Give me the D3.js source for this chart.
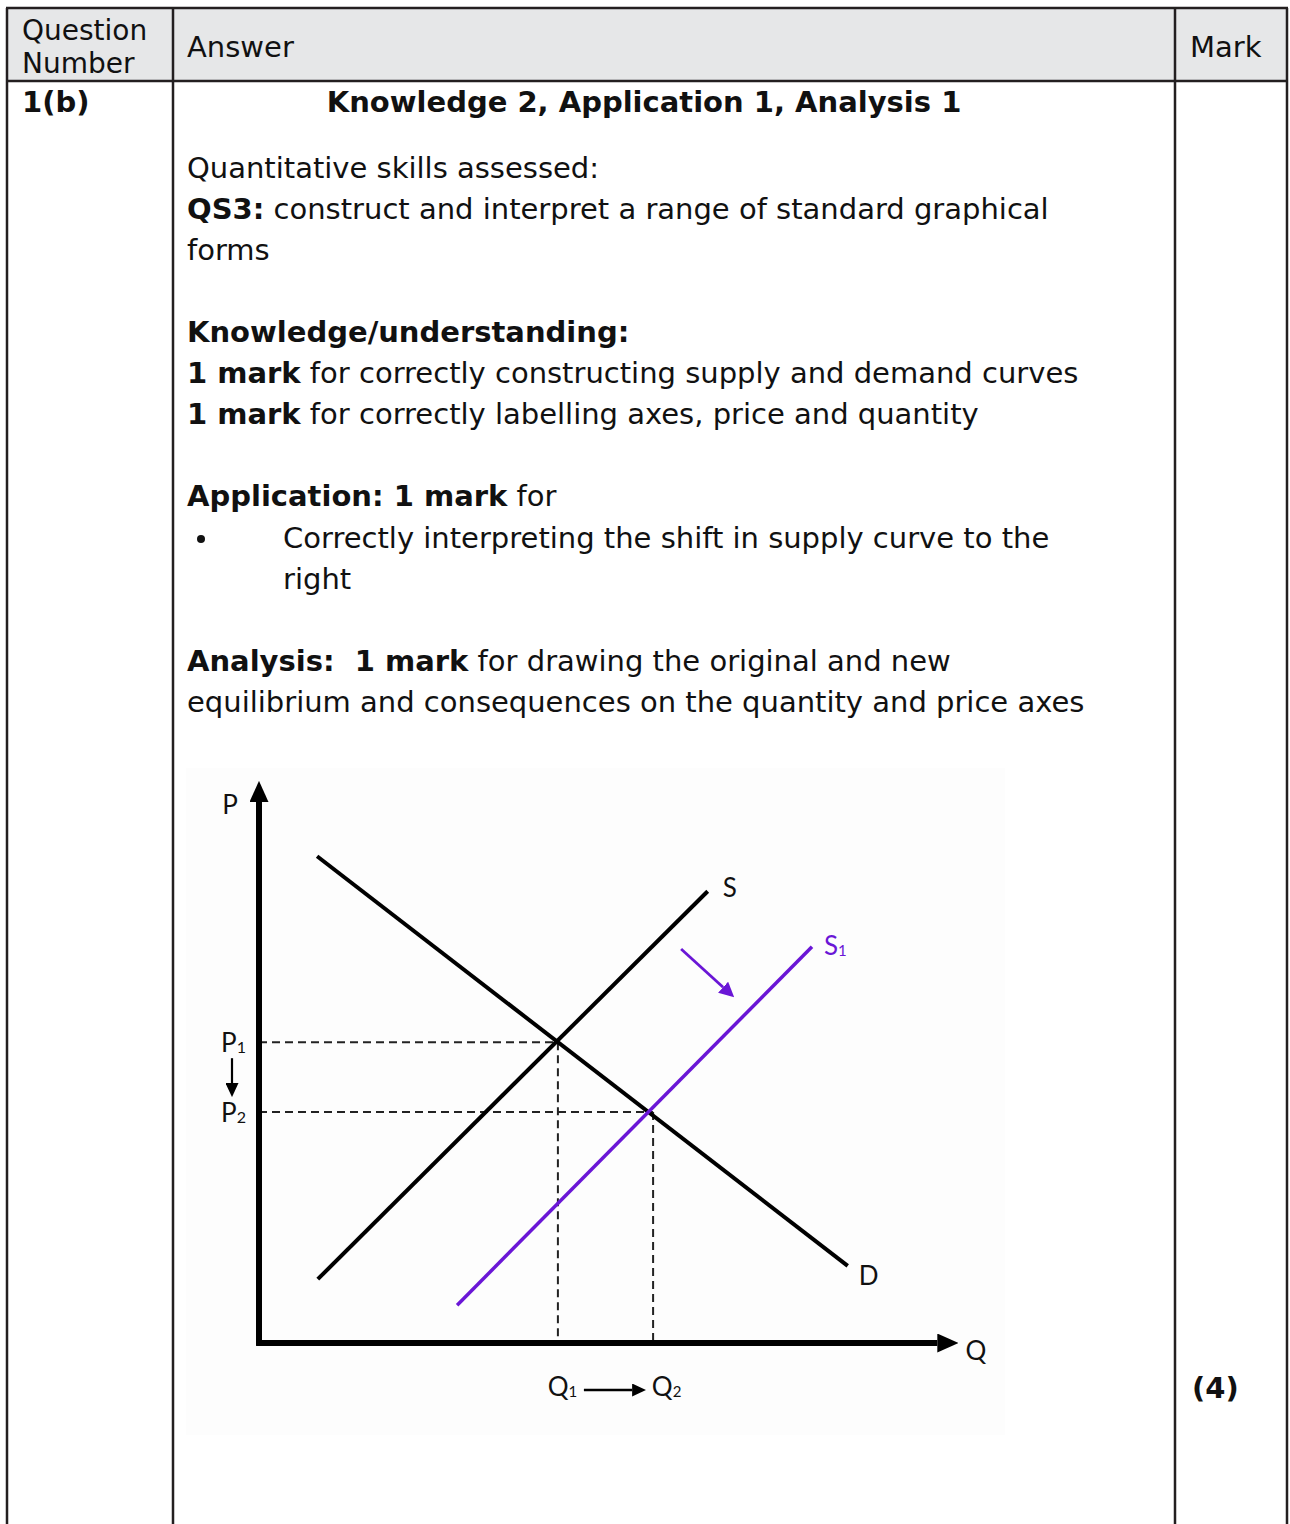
<!DOCTYPE html>
<html>
<head>
<meta charset="utf-8">
<script src="https://cdn.jsdelivr.net/npm/d3@7"></script>
<style>
body { margin: 0; background: #ffffff; }
svg text.doc { font-family: "DejaVu Sans", Verdana, sans-serif; font-size: 29px; fill: #111; white-space: pre; }
svg text.lab { font-family: Lato, "Open Sans", sans-serif; font-size: 26px; fill: #111; }
</style>
</head>
<body>
<div id="chart-area"></div>
<script>
/*
*    supply shift diagram inside a mark scheme table
*/

// curve end points as [quantity, price], both on a 0-100 scale
var demandCurve = [[8.3, 87.7], [84.1, 13.9]];
var supplyCurve = [[8.4, 11.5], [64.1, 81.4]];
var supplyNewCurve = [[28.3, 6.8], [79.0, 71.4]];
var equilibria = [[42.7, 54.2], [56.3, 41.6]];
var shiftArrow = [[60.3, 71.0], [67.7, 62.2]];

var priceTicks = [54.2, 41.6];
var priceTickLabels = ["1", "2"];
var quantityTicks = [42.7, 56.3];
var quantityTickLabels = ["1", "2"];

var axisEnd = 97.5;

var width = 1290;
var height = 1524;

var svg = d3.select("#chart-area").append("svg")
            .attr("width", width)
            .attr("height", height);

var defs = svg.append("defs");
function addMarker(id, w, h, color) {
  defs.append("marker")
      .attr("id", id)
      .attr("viewBox", "0 0 " + w + " " + h)
      .attr("markerUnits", "userSpaceOnUse")
      .attr("markerWidth", w)
      .attr("markerHeight", h)
      .attr("refX", 0)
      .attr("refY", h / 2)
      .attr("orient", "auto")
    .append("path")
      .attr("d", "M0,0 L" + w + "," + (h / 2) + " L0," + h + " Z")
      .attr("fill", color);
}
addMarker("arrowAxis", 21, 19, "#000");
addMarker("arrowSmall", 14, 13, "#000");
addMarker("arrowPurple", 15, 15, "#6a16d6");

// ---------- table ----------
var border = "#231f20";
var colX = [7, 173, 1175, 1287];
var rowY = [8, 81];

svg.append("rect")
   .attr("x", colX[0]).attr("y", rowY[0])
   .attr("width", colX[3] - colX[0]).attr("height", rowY[1] - rowY[0])
   .attr("fill", "#e6e7e8");

colX.forEach(function(x) {
  svg.append("line")
     .attr("x1", x).attr("x2", x)
     .attr("y1", rowY[0]).attr("y2", height + 5)
     .attr("stroke", border).attr("stroke-width", 2.5);
});
rowY.forEach(function(y) {
  svg.append("line")
     .attr("x1", colX[0] - 1).attr("x2", colX[3] + 1)
     .attr("y1", y).attr("y2", y)
     .attr("stroke", border).attr("stroke-width", 2.5);
});

function addText(x, y, parts, anchor) {
  var t = svg.append("text")
             .attr("class", "doc")
             .attr("x", x).attr("y", y)
             .attr("text-anchor", anchor || "start");
  parts.forEach(function(p) {
    t.append("tspan")
     .attr("font-weight", p[1] ? "bold" : "normal")
     .text(p[0]);
  });
  return t;
}

addText(22, 40, [["Question", 0]]).style("font-size", "28px");
addText(22, 73, [["Number", 0]]).style("font-size", "28px");
addText(187, 57, [["Answer", 0]]);
addText(1190, 57, [["Mark", 0]]);
addText(22, 112, [["1(b)", 1]]);
addText(644, 112, [["Knowledge 2, Application 1, Analysis 1", 1]], "middle");

var answerLines = [
  [187, 178, [["Quantitative skills assessed:", 0]]],
  [187, 219, [["QS3:", 1], [" construct and interpret a range of standard graphical", 0]]],
  [187, 260, [["forms", 0]]],
  [187, 342, [["Knowledge/understanding:", 1]]],
  [187, 383, [["1 mark", 1], [" for correctly constructing supply and demand curves", 0]]],
  [187, 424, [["1 mark", 1], [" for correctly labelling axes, price and quantity", 0]]],
  [187, 506, [["Application: 1 mark", 1], [" for", 0]]],
  [283, 548, [["Correctly interpreting the shift in supply curve to the", 0]]],
  [283, 589, [["right", 0]]],
  [187, 671, [["Analysis:  1 mark", 1], [" for drawing the original and new", 0]]],
  [187, 712, [["equilibrium and consequences on the quantity and price axes", 0]]]
];
answerLines.forEach(function(l) { addText(l[0], l[1], l[2]); });

svg.append("circle").attr("cx", 201).attr("cy", 539).attr("r", 4).attr("fill", "#111");

addText(1192, 1398, [["(4)", 1]]);

// ---------- diagram ----------
svg.append("rect")
   .attr("x", 186).attr("y", 768)
   .attr("width", 819).attr("height", 667)
   .attr("fill", "#fdfdfd");

var x = d3.scaleLinear().domain([0, 100]).range([259, 959]);
var y = d3.scaleLinear().domain([0, 100]).range([1343, 788]);

var g = svg.append("g");
var line = d3.line().x(function(d) { return x(d[0]); }).y(function(d) { return y(d[1]); });

// dashed guides
equilibria.forEach(function(e) {
  g.append("path")
   .attr("d", line([[0, e[1]], e]))
   .attr("fill", "none").attr("stroke", "#222").attr("stroke-width", 2)
   .attr("stroke-dasharray", "8,5");
  g.append("path")
   .attr("d", line([e, [e[0], 0]]))
   .attr("fill", "none").attr("stroke", "#222").attr("stroke-width", 2)
   .attr("stroke-dasharray", "8,5");
});

// curves
g.append("path").attr("d", line(demandCurve))
 .attr("fill", "none").attr("stroke", "#000").attr("stroke-width", 4);
g.append("path").attr("d", line(supplyCurve))
 .attr("fill", "none").attr("stroke", "#000").attr("stroke-width", 4);
g.append("path").attr("d", line(supplyNewCurve))
 .attr("fill", "none").attr("stroke", "#6a16d6").attr("stroke-width", 3.5);

// shift arrow
g.append("path").attr("d", line([shiftArrow[0], [shiftArrow[1][0] - 1.4, shiftArrow[1][1] + 1.9]]))
 .attr("fill", "none").attr("stroke", "#6a16d6").attr("stroke-width", 2.8)
 .attr("marker-end", "url(#arrowPurple)");

// axes
g.append("path").attr("d", line([[0, -0.5], [0, axisEnd]]))
 .attr("fill", "none").attr("stroke", "#000").attr("stroke-width", 6)
 .attr("marker-end", "url(#arrowAxis)");
g.append("path").attr("d", line([[-0.4, 0], [axisEnd - 0.6, 0]]))
 .attr("fill", "none").attr("stroke", "#000").attr("stroke-width", 6)
 .attr("marker-end", "url(#arrowAxis)");

var leftAxis = d3.axisLeft(y).tickValues(priceTicks).tickSize(0).tickPadding(13).tickFormat(function() { return ""; });
var pAxis = g.append("g").attr("transform", "translate(" + x(0) + ",0)").call(leftAxis);
pAxis.select(".domain").remove();
pAxis.selectAll("text").each(function(d, i) {
  var t = d3.select(this).attr("class", "lab").attr("fill", "#111").attr("dy", "0.35em");
  t.append("tspan").text("P");
  t.append("tspan").attr("font-size", "16px").attr("dy", "1").text(priceTickLabels[i]);
});

var bottomAxis = d3.axisBottom(x).tickValues(quantityTicks).tickSize(0).tickPadding(35).tickFormat(function() { return ""; });
var qAxis = g.append("g").attr("transform", "translate(0," + y(0) + ")").call(bottomAxis);
qAxis.select(".domain").remove();
qAxis.selectAll("text").each(function(d, i) {
  var t = d3.select(this).attr("class", "lab").attr("fill", "#111")
            .attr("dx", i === 0 ? 4 : 13);
  t.append("tspan").text("Q");
  t.append("tspan").attr("font-size", "15px").attr("dy", "1").text(quantityTickLabels[i]);
});

// movement arrows between tick labels
g.append("line")
 .attr("x1", x(0) - 27).attr("x2", x(0) - 27)
 .attr("y1", y(priceTicks[0]) + 16).attr("y2", y(priceTicks[1]) - 29)
 .attr("stroke", "#000").attr("stroke-width", 2.2)
 .attr("marker-end", "url(#arrowSmall)");
g.append("line")
 .attr("x1", x(quantityTicks[0]) + 26).attr("x2", x(quantityTicks[1]) - 21)
 .attr("y1", y(0) + 47).attr("y2", y(0) + 47)
 .attr("stroke", "#000").attr("stroke-width", 2.4)
 .attr("marker-end", "url(#arrowSmall)");

// curve and axis labels
g.append("text").attr("class", "lab").attr("x", x(0) - 29).attr("y", y(axisEnd) + 12)
 .attr("text-anchor", "middle").text("P");
g.append("text").attr("class", "lab").attr("x", x(100) + 17).attr("y", y(0) + 17)
 .attr("text-anchor", "middle").text("Q");
g.append("text").attr("class", "lab").attr("x", x(demandCurve[1][0]) + 11).attr("y", y(demandCurve[1][1]) + 19)
 .text("D");
g.append("text").attr("class", "lab").attr("x", x(supplyCurve[1][0]) + 15).attr("y", y(supplyCurve[1][1]) + 6)
 .text("S");
var s1 = g.append("text").attr("class", "lab").attr("x", x(supplyNewCurve[1][0]) + 12).attr("y", y(supplyNewCurve[1][1]) + 8)
 .style("fill", "#6a16d6");
s1.append("tspan").text("S");
s1.append("tspan").attr("font-size", "15px").attr("dy", "1").text("1");
</script>
</body>
</html>
